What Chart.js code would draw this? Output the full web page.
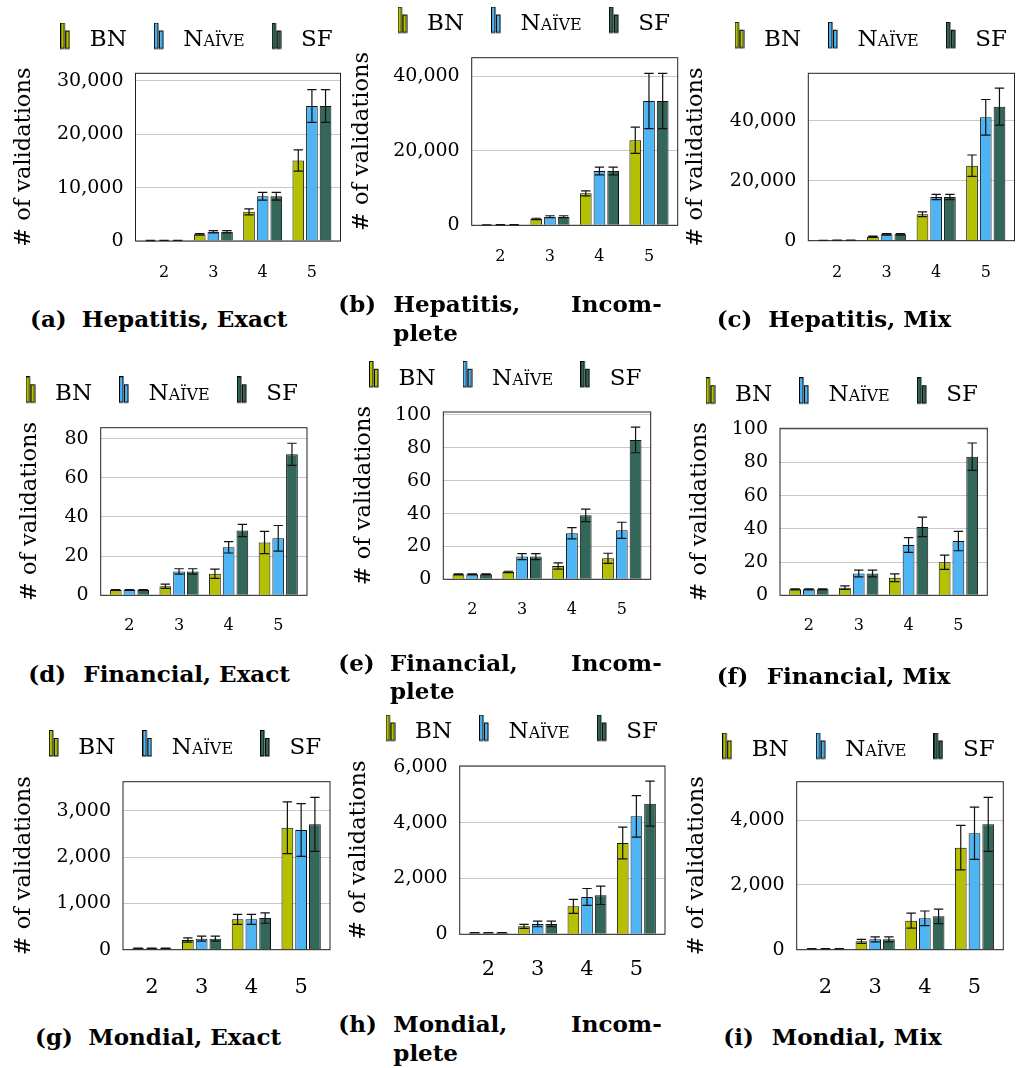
<!DOCTYPE html>
<html><head><meta charset="utf-8">
<script src="https://cdn.jsdelivr.net/npm/chart.js@4"></script>
<style>
html,body{margin:0;padding:0;background:#fff;width:1016px;height:1068px;overflow:hidden;}
#wrap{position:relative;width:1016px;height:1068px;}
canvas{position:absolute;}
.cap{position:absolute;font-family:"DejaVu Serif",serif;font-weight:bold;font-size:23px;line-height:23px;white-space:nowrap;color:#000;}
.just{text-align:justify;text-align-last:justify;}
</style></head><body><div id="wrap"></div>
<script>
// ---------- data ----------
const categories = [2, 3, 4, 5];
const seriesNames = ['BN', 'Naïve', 'SF'];
const seriesColors = ['#b4c000', '#4db5f3', '#32675a'];

// (a) Hepatitis, Exact
const hepExactBN = [100, 1250, 5460, 15080];
const hepExactBNErr = [20, 150, 560, 2000];
const hepExactNaive = [120, 1730, 8380, 25270];
const hepExactNaiveErr = [20, 200, 720, 3070];
const hepExactSF = [120, 1730, 8380, 25270];
const hepExactSFErr = [20, 200, 720, 3070];
const hepExactYTicks = [0, 10000, 20000, 30000];
const hepExactYMax = 31400;

// (b) Hepatitis, Incomplete
const hepIncBN = [120, 1690, 8590, 22820];
const hepIncBNErr = [20, 200, 670, 3530];
const hepIncNaive = [150, 2310, 14580, 33370];
const hepIncNaiveErr = [20, 250, 1030, 7420];
const hepIncSF = [150, 2310, 14580, 33370];
const hepIncSFErr = [20, 250, 1030, 7420];
const hepIncYTicks = [0, 20000, 40000];
const hepIncYMax = 45000;

// (c) Hepatitis, Mix
const hepMixBN = [120, 1330, 8800, 25000];
const hepMixBNErr = [20, 200, 785, 3570];
const hepMixNaive = [150, 2130, 14570, 41130];
const hepMixNaiveErr = [20, 250, 880, 5930];
const hepMixSF = [150, 2130, 14570, 44670];
const hepMixSFErr = [20, 250, 880, 6170];
const hepMixYTicks = [0, 20000, 40000];
const hepMixYMax = 55800;

// (d) Financial, Exact
const finExactBN = [2.7, 4.6, 11.0, 27.0];
const finExactBNErr = [0.2, 1.1, 2.35, 5.7];
const finExactNaive = [2.7, 12.2, 24.5, 29.1];
const finExactNaiveErr = [0.2, 1.35, 2.9, 6.55];
const finExactSF = [2.7, 12.2, 33.1, 72.0];
const finExactSFErr = [0.2, 1.35, 3.15, 5.65];
const finExactYTicks = [0, 20, 40, 60, 80];
const finExactYMax = 85.6;

// (e) Financial, Incomplete
const finIncBN = [3.0, 4.5, 8.1, 12.8];
const finIncBNErr = [0.3, 0.4, 1.9, 3.05];
const finIncNaive = [3.0, 13.8, 28.0, 29.8];
const finIncNaiveErr = [0.3, 1.8, 3.45, 4.9];
const finIncSF = [3.0, 13.8, 38.9, 84.8];
const finIncSFErr = [0.3, 1.8, 3.85, 7.8];
const finIncYTicks = [0, 20, 40, 60, 80, 100];
const finIncYMax = 101.8;

// (f) Financial, Mix
const finMixBN = [3.6, 4.6, 10.6, 19.9];
const finMixBNErr = [0.3, 1.1, 2.35, 4.3];
const finMixNaive = [3.6, 13.1, 30.3, 32.7];
const finMixNaiveErr = [0.3, 2.05, 4.5, 5.85];
const finMixSF = [3.6, 13.1, 41.2, 83.5];
const finMixSFErr = [0.3, 2.05, 5.85, 8.25];
const finMixYTicks = [0, 20, 40, 60, 80, 100];
const finMixYMax = 100.6;

// (g) Mondial, Exact
const monExactBN = [30, 209, 655, 2633];
const monExactBNErr = [5, 47, 108, 558];
const monExactNaive = [30, 237, 655, 2583];
const monExactNaiveErr = [5, 54, 108, 568];
const monExactSF = [30, 237, 683, 2705];
const monExactSFErr = [5, 54, 112, 583];
const monExactYTicks = [0, 1000, 2000, 3000];
const monExactYMax = 3626;

// (h) Mondial, Incomplete
const monIncBN = [60, 286, 1002, 3268];
const monIncBNErr = [5, 72, 250, 567];
const monIncNaive = [60, 370, 1336, 4222];
const monIncNaiveErr = [5, 100, 304, 745];
const monIncSF = [60, 370, 1395, 4675];
const monIncSFErr = [5, 100, 328, 805];
const monIncYTicks = [0, 2000, 4000, 6000];
const monIncYMax = 6025;

// (i) Mondial, Mix
const monMixBN = [31, 258, 897, 3155];
const monMixBNErr = [5, 62, 232, 690];
const monMixNaive = [31, 320, 969, 3598];
const monMixNaiveErr = [5, 78, 227, 809];
const monMixSF = [31, 320, 1031, 3876];
const monMixSFErr = [5, 78, 222, 835];
const monMixYTicks = [0, 2000, 4000];
const monMixYMax = 5193;

// ---------- layout ----------
const FONT = '"DejaVu Serif", serif';
const LEG_FS = 23, LEG_PAD = 19, LEG_BOX = 26;
const YTITLE_FS = 22.5;

const panels = [
  {vals:[hepExactBN,hepExactNaive,hepExactSF], errs:[hepExactBNErr,hepExactNaiveErr,hepExactSFErr], yTicks:hepExactYTicks, yMax:hepExactYMax,
   boxL:135.5, boxR:340.5, boxT:73.3, boxB:241, yTitleX:24.5, legX:65.3, legY:40.5, xLabY:272.5, xFont:16,
   cap:{lab:'(a)', labX:30, txt:'Hepatitis, Exact', txtX:81.7, y:318.3}},
  {vals:[hepIncBN,hepIncNaive,hepIncSF], errs:[hepIncBNErr,hepIncNaiveErr,hepIncSFErr], yTicks:hepIncYTicks, yMax:hepIncYMax,
   boxL:471.7, boxR:677.7, boxT:57.7, boxB:225.3, yTitleX:362, legX:402.5, legY:24.5, xLabY:256.7, xFont:16,
   cap:{lab:'(b)', labX:338.3, txt:'Hepatitis, Incom-', txtX:393.3, txtR:661.7, txt2:'plete', y:303.3, y2:331.6}},
  {vals:[hepMixBN,hepMixNaive,hepMixSF], errs:[hepMixBNErr,hepMixNaiveErr,hepMixSFErr], yTicks:hepMixYTicks, yMax:hepMixYMax,
   boxL:808.3, boxR:1014.5, boxT:73.3, boxB:240.7, yTitleX:696.5, legX:739.5, legY:39.7, xLabY:272.5, xFont:16,
   cap:{lab:'(c)', labX:716.7, txt:'Hepatitis, Mix', txtX:768.3, y:318.3}},
  {vals:[finExactBN,finExactNaive,finExactSF], errs:[finExactBNErr,finExactNaiveErr,finExactSFErr], yTicks:finExactYTicks, yMax:finExactYMax,
   boxL:100.7, boxR:307, boxT:427.7, boxB:595.3, yTitleX:30.5, legX:30.5, legY:394.3, xLabY:626.3, xFont:16,
   cap:{lab:'(d)', labX:28.3, txt:'Financial, Exact', txtX:83.3, y:673.3}},
  {vals:[finIncBN,finIncNaive,finIncSF], errs:[finIncBNErr,finIncNaiveErr,finIncSFErr], yTicks:finIncYTicks, yMax:finIncYMax,
   boxL:443.3, boxR:650.7, boxT:412, boxB:579.3, yTitleX:364, legX:374, legY:378.8, xLabY:610, xFont:16,
   cap:{lab:'(e)', labX:338.3, txt:'Financial, Incom-', txtX:390, txtR:661.7, txt2:'plete', y:661.7, y2:690}},
  {vals:[finMixBN,finMixNaive,finMixSF], errs:[finMixBNErr,finMixNaiveErr,finMixSFErr], yTicks:finMixYTicks, yMax:finMixYMax,
   boxL:780, boxR:987.3, boxT:428.3, boxB:595.3, yTitleX:700, legX:710.5, legY:395.2, xLabY:626.3, xFont:16,
   cap:{lab:'(f)', labX:716.7, txt:'Financial, Mix', txtX:766.7, y:675}},
  {vals:[monExactBN,monExactNaive,monExactSF], errs:[monExactBNErr,monExactNaiveErr,monExactSFErr], yTicks:monExactYTicks, yMax:monExactYMax,
   boxL:123, boxR:330, boxT:781.7, boxB:949.7, yTitleX:24, legX:53.8, legY:748, xLabY:987.3, xFont:21,
   cap:{lab:'(g)', labX:35, txt:'Mondial, Exact', txtX:88.3, y:1036.3}},
  {vals:[monIncBN,monIncNaive,monIncSF], errs:[monIncBNErr,monIncNaiveErr,monIncSFErr], yTicks:monIncYTicks, yMax:monIncYMax,
   boxL:459.7, boxR:665, boxT:766, boxB:934.3, yTitleX:359.5, legX:390.5, legY:732.5, xLabY:970, xFont:21,
   cap:{lab:'(h)', labX:338.3, txt:'Mondial, Incom-', txtX:393.3, txtR:661.7, txt2:'plete', y:1023.3, y2:1051.6}},
  {vals:[monMixBN,monMixNaive,monMixSF], errs:[monMixBNErr,monMixNaiveErr,monMixSFErr], yTicks:monMixYTicks, yMax:monMixYMax,
   boxL:796.7, boxR:1003.3, boxT:781.7, boxB:949.7, yTitleX:696.7, legX:727.2, legY:750.5, xLabY:987.3, xFont:21,
   cap:{lab:'(i)', labX:723.3, txt:'Mondial, Mix', txtX:771.7, y:1036.3}}
];

// ---------- helpers ----------
function makeIcon(color) {
  const c = document.createElement('canvas');
  c.width = 10; c.height = 36;
  const g = c.getContext('2d');
  g.fillStyle = color; g.strokeStyle = '#000'; g.lineWidth = 1;
  g.fillRect(0.5, 0.5, 3.5, 25.5); g.strokeRect(0.5, 0.5, 3.5, 25.5);
  g.fillRect(5.5, 8.5, 3.5, 17.5); g.strokeRect(5.5, 8.5, 3.5, 17.5);
  return c;
}
const icons = seriesColors.map(makeIcon);

const errorBarPlugin = {
  id: 'errbars',
  afterDatasetsDraw(chart) {
    const ctx = chart.ctx, ys = chart.scales.y;
    chart.data.datasets.forEach((ds, di) => {
      const meta = chart.getDatasetMeta(di);
      meta.data.forEach((bar, i) => {
        const v = ds.data[i].y, e = ds.errors[i];
        const yTop = ys.getPixelForValue(v + e);
        const yBot = ys.getPixelForValue(Math.max(0, v - e));
        const half = bar.width * 0.4;
        ctx.save();
        ctx.strokeStyle = '#111'; ctx.lineWidth = 1.2;
        ctx.beginPath();
        ctx.moveTo(bar.x, yTop); ctx.lineTo(bar.x, yBot);
        ctx.moveTo(bar.x - half, yTop); ctx.lineTo(bar.x + half, yTop);
        ctx.moveTo(bar.x - half, yBot); ctx.lineTo(bar.x + half, yBot);
        ctx.stroke();
        ctx.restore();
      });
    });
  }
};
const framePlugin = {
  id: 'frame',
  afterDatasetsDraw(chart) {
    const a = chart.chartArea, ctx = chart.ctx;
    ctx.save();
    ctx.strokeStyle = '#222'; ctx.lineWidth = 1;
    ctx.strokeRect(a.left, a.top, a.right - a.left, a.bottom - a.top);
    ctx.restore();
  }
};

const wrap = document.getElementById('wrap');

function addCaption(c) {
  const mk = (text, x, y, cls) => {
    const d = document.createElement('div');
    d.className = 'cap' + (cls ? ' ' + cls : '');
    d.textContent = text;
    d.style.left = x + 'px';
    d.style.top = (y - 11.1) + 'px';
    wrap.appendChild(d);
    return d;
  };
  mk(c.lab, c.labX, c.y);
  if (c.txtR) {
    const d = mk(c.txt, c.txtX, c.y, 'just');
    d.style.width = (c.txtR - c.txtX) + 'px';
    mk(c.txt2, c.txtX, c.y2);
  } else {
    mk(c.txt, c.txtX, c.y);
  }
}

function buildChart(p) {
  const legTop = p.legY - LEG_PAD - LEG_FS / 2;
  const legH = LEG_FS + LEG_PAD + 10;      // Chart.js legend: itemHeight + padding + 10
  const spacer = p.boxT - (legTop + legH);
  const legLeft = p.legX - LEG_BOX / 2 - LEG_PAD;
  const cLeft = Math.min(Math.floor(p.yTitleX - 24), Math.floor(legLeft) - 2);
  const cTop = Math.floor(legTop - 4);
  const padL = legLeft - cLeft;
  const padT = legTop - cTop;
  const yAxisW = p.boxL - legLeft;
  const titlePadTop = p.yTitleX - legLeft - YTITLE_FS / 2;
  const cW = Math.ceil(p.boxR - cLeft + 80);
  const rightW = cW - (p.boxR - cLeft);   // invisible right-side spacer axis
  const cH = Math.ceil(p.boxB - cTop + 55);
  const xH = cH - (p.boxB - cTop);

  const cv = document.createElement('canvas');
  cv.width = cW; cv.height = cH;
  cv.style.left = cLeft + 'px'; cv.style.top = cTop + 'px';
  cv.style.width = cW + 'px'; cv.style.height = cH + 'px';
  wrap.appendChild(cv);

  const datasets = seriesNames.map((name, s) => ({
    label: name,
    data: categories.map((c, i) => ({x: c, y: p.vals[s][i]})),
    errors: p.errs[s],
    backgroundColor: seriesColors[s],
    borderColor: '#111',
    borderWidth: 1,
    categoryPercentage: 0.83,
    barPercentage: 0.854
  }));

  new Chart(cv, {
    type: 'bar',
    data: {datasets},
    options: {
      responsive: false,
      animation: false,
      devicePixelRatio: 1,
      layout: {padding: {left: padL, right: 0, top: padT, bottom: 0}},
      plugins: {
        tooltip: {enabled: false},
        title: {display: false},
        subtitle: {display: spacer >= 1, text: '', position: 'top', weight: 100, fullSize: true,
                   font: {size: 1, lineHeight: 1}, padding: {top: Math.max(0, spacer - 1), bottom: 0}},
        legend: {
          display: true, position: 'top', align: 'start',
          labels: {
            usePointStyle: true, pointStyleWidth: LEG_BOX, boxWidth: LEG_BOX,
            padding: LEG_PAD, color: '#000',
            font: {family: FONT, size: LEG_FS, weight: 'small-caps'},
            generateLabels: (chart) => chart.data.datasets.map((ds, i) => ({
              text: ds.label, pointStyle: icons[i], fillStyle: ds.backgroundColor,
              strokeStyle: '#000', lineWidth: 0, hidden: false, datasetIndex: i, fontColor: '#000'
            }))
          }
        }
      },
      scales: {
        x: {
          type: 'linear', min: 1.42, max: 5.58, offset: false,
          afterBuildTicks: s => { s.ticks = categories.map(v => ({value: v})); },
          afterFit: s => { s.height = xH; },
          grid: {display: false, drawTicks: false, offset: false},
          border: {display: false},
          ticks: {font: {family: FONT, size: p.xFont, lineHeight: 1}, color: '#000',
                  padding: p.xLabY - p.boxB - p.xFont / 2, maxRotation: 0, autoSkip: false,
                  callback: v => String(v)}
        },
        y: {
          type: 'linear', min: 0, max: p.yMax,
          afterBuildTicks: s => { s.ticks = p.yTicks.map(v => ({value: v})); },
          afterFit: s => { s.width = yAxisW; },
          grid: {color: '#c8c8c8', lineWidth: 1, drawTicks: false},
          border: {display: false},
          ticks: {font: {family: FONT, size: 19}, color: '#000', padding: 12,
                  callback: v => v.toLocaleString('en-US')},
          title: {display: true, text: '# of validations', color: '#000',
                  font: {family: FONT, size: YTITLE_FS, lineHeight: 1},
                  padding: {top: titlePadTop, bottom: 0}}
        },
        yR: {
          type: 'linear', position: 'right', min: 0, max: 1, display: true,
          afterFit: s => { s.width = rightW; },
          grid: {display: false, drawTicks: false},
          border: {display: false},
          ticks: {display: false}
        }
      }
    },
    plugins: [errorBarPlugin, framePlugin]
  });
  addCaption(p.cap);
}

panels.forEach(buildChart);
</script></body></html>
